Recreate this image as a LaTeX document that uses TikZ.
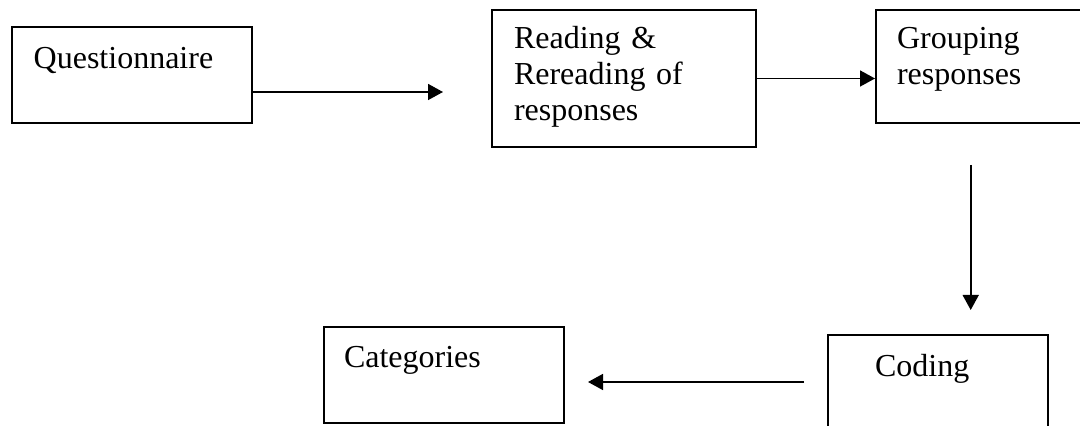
\documentclass[tikz,border=0pt]{standalone}
\usepackage{fontspec}
\setmainfont{Liberation Serif}
\usetikzlibrary{arrows.meta}

\begin{document}
\begin{tikzpicture}[>={Triangle[length=7.5pt,width=8pt]},x=0.5pt,y=-0.5pt,
  stage/.style={draw,line width=1pt,anchor=north west,align=left,inner ysep=0pt,
    font=\fontsize{16}{18}\selectfont},
  flow/.style={->,line width=0.8pt}]
  \useasboundingbox (0,0) rectangle (1080,426);
  % boxes, top left corners in pixels
  \node[stage,inner xsep=11pt,text width=98pt,text height=21pt,text depth=27pt] (quest) at (10.7,25.7) {Questionnaire};
  \node[stage,inner xsep=11pt,text width=110pt,text height=19.5pt,text depth=49pt] (reading) at (491,9) {Reading \&\\Rereading of\\responses};
  \node[stage,inner xsep=10.5pt,text width=83.5pt,text height=19.5pt,text depth=37pt] (grouping) at (875,9) {Grouping\\responses};
  \node[stage,inner xsep=23.5pt,text width=63pt,text height=21pt,text depth=32pt] (coding) at (827,334) {Coding};
  \node[stage,inner xsep=10pt,text width=100pt,text height=20.5pt,text depth=27.5pt] (categories) at (323,326) {Categories};
  % free arrow ends
  \coordinate (questend) at (443,92);
  \coordinate (downtop) at (970.7,165);
  \coordinate (downend) at (970.7,310);
  \coordinate (backtop) at (804,382);
  \coordinate (backend) at (588,382);
  \draw[flow] (quest.east |- questend) -- (questend);
  \draw[flow] (reading.east) -- (reading.east -| grouping.west);
  \draw[flow] (downtop) -- (downend);
  \draw[flow] (backtop) -- (backend);
\end{tikzpicture}
\end{document}
